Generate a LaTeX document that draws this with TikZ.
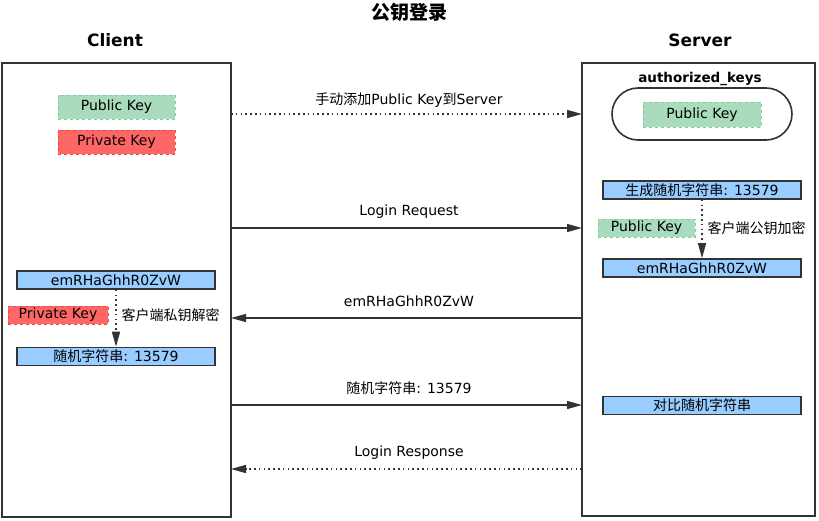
\documentclass[tikz,border=0pt]{standalone}
\usepackage{fontspec}
\setmainfont{DejaVu Sans}
\newfontfamily\cjk{Noto Sans CJK SC}
\usetikzlibrary{arrows.meta}

\definecolor{linegray}{HTML}{333333}
\definecolor{keygreen}{HTML}{A9DCBC}
\definecolor{keygreenline}{HTML}{8CC9A2}
\definecolor{keyred}{HTML}{FF6666}
\definecolor{keyredline}{HTML}{E04E4E}
\definecolor{msgblue}{HTML}{99CCFF}

\tikzset{
	lane/.style={draw=linegray, line width=2pt, minimum width=229pt, minimum height=454pt},
	pubkey/.style={fill=keygreen, draw=keygreenline, dashed, line width=0.8pt, minimum height=24pt},
	privkey/.style={fill=keyred, draw=keyredline, dashed, line width=0.8pt, minimum height=24pt},
	msgbox/.style={fill=msgblue, draw=linegray, line width=1.6pt, minimum width=198pt, minimum height=18pt, inner sep=0pt},
	msg/.style={draw=linegray, line width=1.4pt, -{Triangle[length=15pt,width=8pt]}},
	dotmsg/.style={msg, line width=1.6pt, dash pattern=on 1.6pt off 3.2pt},
	steplabel/.style={font=\fontsize{14}{16}\selectfont, text=black}
}

\begin{document}
\begin{tikzpicture}[x=1pt, y=-1pt, font=\fontsize{14}{16}\selectfont]
	\useasboundingbox (0,0) rectangle (819,521);
	\node[font=\fontsize{19}{22}\selectfont\bfseries\cjk] (title) at (409,12) {公钥登录};
	\node[font=\fontsize{17}{20}\selectfont\bfseries] (clienttitle) at (115,40) {Client};
	\node[font=\fontsize{17}{20}\selectfont\bfseries] (servertitle) at (700,40) {Server};

	% the two sides
	\node[lane] (client) at (116.5,290) {};
	\node[lane, minimum width=233pt, minimum height=453pt] (server) at (698.5,289.5) {};

	% keys of the client
	\node[pubkey, minimum width=117pt] (cpub) at (116.5,107) {Public Key};
	\node[privkey, minimum width=117pt] (cpriv) at (116.5,142) {Private Key};

	% authorized_keys of the server
	\node[font=\fontsize{13.5}{15}\selectfont\bfseries] (authtitle) at (700,79) {authorized\_keys};
	\node[draw=linegray, line width=1.6pt, rounded corners=26pt, minimum width=180pt, minimum height=52pt] (authbox) at (702,114) {};
	\node[pubkey, minimum width=118pt, minimum height=25pt] (spub) at (702,114.5) {Public Key};

	% steps on the server
	\node[msgbox] (sgen) at (702,190) {{\cjk 生成随机字符串}: 13579};
	\node[pubkey, minimum width=97pt, minimum height=18pt, inner sep=0pt] (spub2) at (646.5,228) {Public Key};
	\node[msgbox] (senc) at (702,268) {emRHaGhhR0ZvW};
	\draw[dotmsg] (sgen) -- (senc);
	\node[anchor=west, font=\fontsize{14}{16}\selectfont\cjk] (enclabel) at (704,228) {客户端公钥加密};
	\node[msgbox] (scmp) at (702,405.5) {\cjk 对比随机字符串};

	% steps on the client
	\node[msgbox] (cenc) at (116,280) {emRHaGhhR0ZvW};
	\node[privkey, minimum width=100pt, minimum height=18pt, inner sep=0pt] (cpriv2) at (58,315) {Private Key};
	\node[msgbox] (cdec) at (116,356.5) {{\cjk 随机字符串}: 13579};
	\draw[dotmsg] (cenc) -- (cdec);
	\node[anchor=west, font=\fontsize{14}{16}\selectfont\cjk] (declabel) at (118,315) {客户端私钥解密};

	% messages
	\coordinate (c1) at (231,114);  \coordinate (s1) at (582,114);
	\coordinate (c2) at (231,228);  \coordinate (s2) at (582,228);
	\coordinate (c3) at (231,318);  \coordinate (s3) at (582,318);
	\coordinate (c4) at (231,405);  \coordinate (s4) at (582,405);
	\coordinate (c5) at (231,469);  \coordinate (s5) at (582,469);
	\draw[dotmsg] (c1) -- (s1);
	\node[steplabel] (m1) at (409,100) {{\cjk 手动添加}Public Key{\cjk 到}Server};
	\draw[msg] (c2) -- (s2);
	\node[steplabel] (m2) at (409,212) {Login Request};
	\draw[msg] (s3) -- (c3);
	\node[steplabel] (m3) at (409,301) {emRHaGhhR0ZvW};
	\draw[msg] (c4) -- (s4);
	\node[steplabel] (m4) at (409,388) {{\cjk 随机字符串}: 13579};
	\draw[dotmsg] (s5) -- (c5);
	\node[steplabel] (m5) at (409,453) {Login Response};
\end{tikzpicture}
\end{document}
